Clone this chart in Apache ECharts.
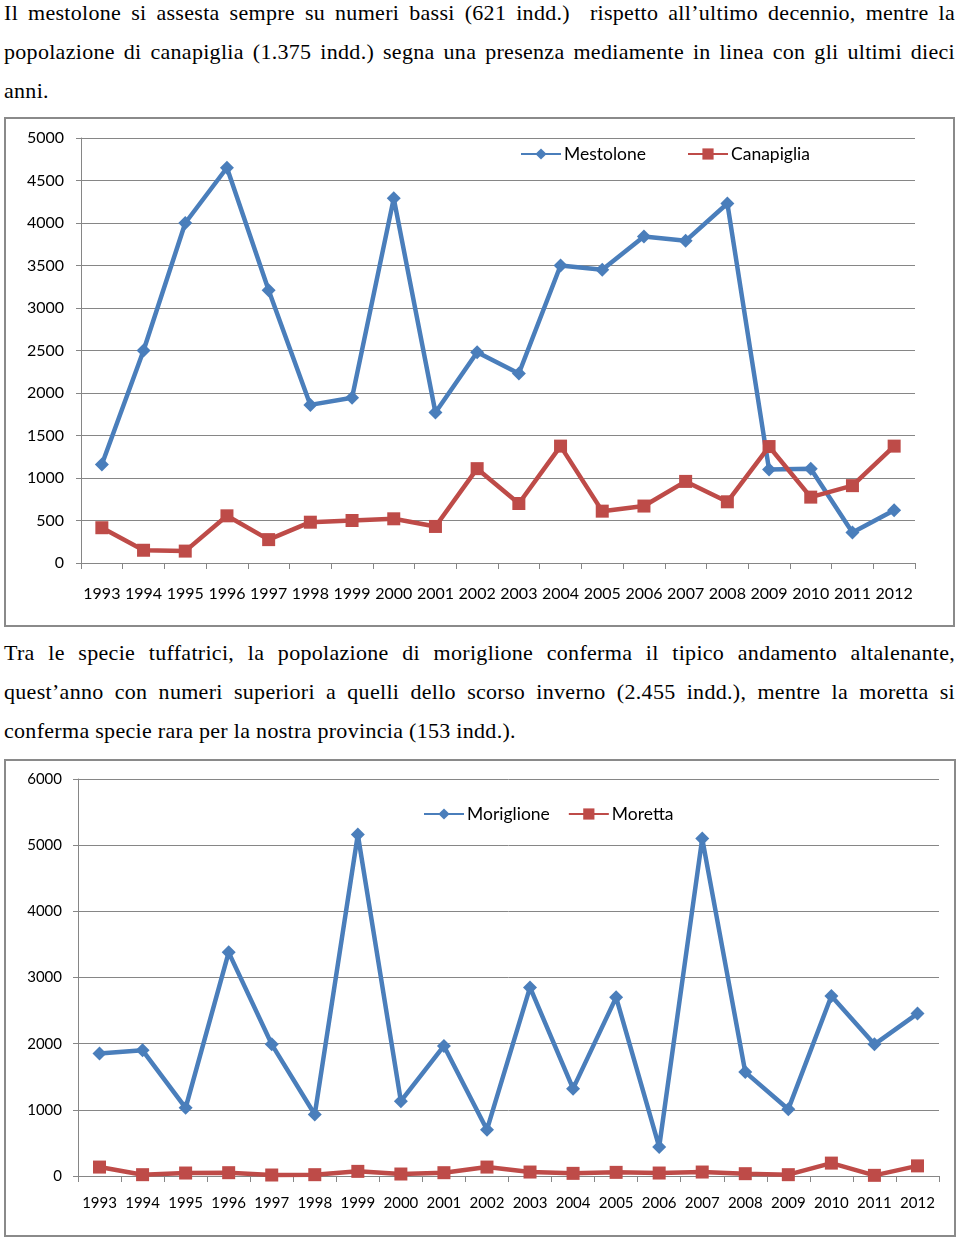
<!DOCTYPE html>
<html>
<head>
<meta charset="utf-8">
<script src="https://cdn.jsdelivr.net/npm/echarts@6/dist/echarts.min.js"></script>
<style>
  html, body { margin: 0; padding: 0; background: #fff; }
  body { width: 960px; height: 1239px; position: relative; overflow: hidden; }
  .ln { position: absolute; left: 4px; width: 951px; font-family: "Liberation Serif", "Times New Roman", serif;
        font-size: 22px; letter-spacing: 0.3px; line-height: 22px; color: #000; white-space: nowrap; }
  .just { text-align: justify; text-align-last: justify; white-space: normal; }
  .box { position: absolute; border: 2px solid #8a8a8a; box-sizing: border-box; }
  .chart { position: absolute; left: 0; width: 960px; }
</style>
</head>
<body>
<div class="ln just" style="top:2px">Il mestolone si assesta sempre su numeri bassi (621 indd.)&nbsp; rispetto all’ultimo decennio, mentre la</div>
<div class="ln just" style="top:41px">popolazione di canapiglia (1.375 indd.) segna una presenza mediamente in linea con gli ultimi dieci</div>
<div class="ln" style="top:80px">anni.</div>

<div class="box" style="left:4px; top:117px; width:951px; height:510px"></div>
<div id="c1" class="chart" style="top:117px; height:512px"></div>

<div class="ln just" style="top:642px">Tra le specie tuffatrici, la popolazione di moriglione conferma il tipico andamento altalenante,</div>
<div class="ln just" style="top:681px">quest’anno con numeri superiori a quelli dello scorso inverno (2.455 indd.), mentre la moretta si</div>
<div class="ln" style="top:720px">conferma specie rara per la nostra provincia (153 indd.).</div>

<div class="box" style="left:4px; top:759px; width:952px; height:478px"></div>
<div id="c2" class="chart" style="top:759px; height:480px"></div>

<script>
// ---- data ----
const years = ["1993","1994","1995","1996","1997","1998","1999","2000","2001","2002","2003","2004","2005","2006","2007","2008","2009","2010","2011","2012"];
const mestolone  = [1160, 2500, 4000, 4650, 3210, 1860, 1945, 4290, 1770, 2480, 2230, 3500, 3450, 3840, 3790, 4230, 1100, 1110, 360, 621];
const canapiglia = [415, 150, 140, 555, 275, 480, 500, 520, 430, 1110, 700, 1375, 610, 670, 960, 720, 1370, 775, 910, 1375];
const moriglione = [1850, 1900, 1030, 3380, 1990, 930, 5160, 1130, 1965, 700, 2850, 1320, 2700, 440, 5100, 1570, 1010, 2720, 1990, 2455];
const moretta    = [135, 20, 45, 50, 15, 20, 70, 30, 50, 135, 60, 40, 55, 45, 60, 35, 20, 195, 10, 153];
const chart1Names = ["Mestolone", "Canapiglia"];
const chart2Names = ["Moriglione", "Moretta"];

const BLUE = "#4a7ebb", RED = "#be4b48", GRID = "#868686";
const FONT = "Lato";

function makeOption(cfg) {
  return {
    animation: false,
    textStyle: { fontFamily: FONT },
    grid: cfg.grid,
    legend: {
      left: cfg.legendLeft, top: cfg.legendTop, padding: 0,
      itemWidth: 40, itemHeight: 14, itemGap: cfg.legendGap,
      textStyle: { fontFamily: FONT, fontSize: cfg.legendFs, color: "#000", padding: [0, 0, 0, -2] },
      data: cfg.names
    },
    xAxis: {
      type: "category", data: years, boundaryGap: true,
      axisLine: { lineStyle: { color: GRID, width: 1 } },
      axisTick: { show: true, length: 6, inside: false, lineStyle: { color: GRID } },
      axisLabel: { color: "#000", fontSize: cfg.fs, fontFamily: FONT, margin: cfg.xMargin, interval: 0 }
    },
    yAxis: {
      type: "value", min: 0, max: cfg.max, interval: cfg.interval,
      axisLine: { show: true, lineStyle: { color: GRID, width: 1 } },
      axisTick: { show: true, length: 5, lineStyle: { color: GRID } },
      axisLabel: { color: "#000", fontSize: cfg.fs, fontFamily: FONT, margin: cfg.yMargin,
                   formatter: function (v) { return String(v); } },
      splitLine: { lineStyle: { color: GRID, width: 1 } }
    },
    series: [
      { name: cfg.names[0], type: "line", data: cfg.d1, symbol: "diamond", symbolSize: 14,
        lineStyle: { color: BLUE, width: 4.5 }, itemStyle: { color: BLUE } },
      { name: cfg.names[1], type: "line", data: cfg.d2, symbol: "rect", symbolSize: 13,
        lineStyle: { color: RED, width: 4.5 }, itemStyle: { color: RED } }
    ]
  };
}

const c1 = echarts.init(document.getElementById("c1"), null, { renderer: "canvas" });
c1.setOption(makeOption({
  grid: { left: 81, right: 45, top: 21, bottom: 66 },
  legendLeft: 520, legendTop: 28, legendGap: 41, fs: 16, legendFs: 17.5,
  names: chart1Names, d1: mestolone, d2: canapiglia,
  max: 5000, interval: 500, xMargin: 23, yMargin: 17
}));

const c2 = echarts.init(document.getElementById("c2"), null, { renderer: "canvas" });
c2.setOption(makeOption({
  grid: { left: 78, right: 21, top: 20, bottom: 63 },
  legendLeft: 423, legendTop: 46, legendGap: 18, fs: 15, legendFs: 17.5,
  names: chart2Names, d1: moriglione, d2: moretta,
  max: 6000, interval: 1000, xMargin: 20, yMargin: 16
}));
</script>
</body>
</html>
